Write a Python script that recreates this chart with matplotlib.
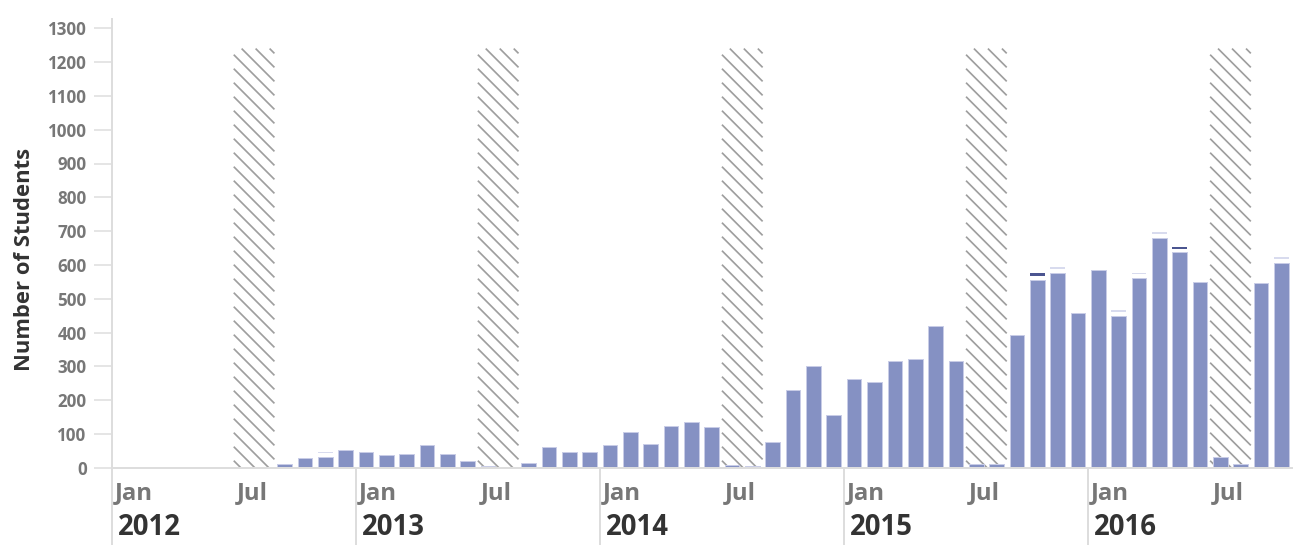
import matplotlib
matplotlib.use("Agg")
import matplotlib.pyplot as plt
import matplotlib.transforms as mtrans
from matplotlib.collections import LineCollection

# ---------------- data ----------------
years = [2012, 2013, 2014, 2015, 2016]
month_names = ["Jan", "Jul"]
# monthly enrolments, Jan 2012 .. Oct 2016
main_values = [0, 0, 0, 0, 0, 0, 0, 0, 11, 30, 33, 52,
               46, 38, 41, 68, 41, 19, 4, 1.5, 13, 62, 46, 45,
               66, 105, 71, 123, 135, 120, 8, 5, 75, 229, 302, 156,
               263, 253, 316, 321, 419, 317, 11, 10, 393, 555, 577, 457,
               585, 449, 561, 681, 637, 548, 31, 12, 547, 607]
# small stacked segments on top (light and dark)
light_extra = {10: 13, 39: 13, 46: 17, 49: 17, 50: 16, 51: 16, 57: 16}
dark_extra = {45: 21, 52: 16}
summer_months = [6, 18, 30, 42, 54]   # first month of each Jul-Aug break
summer_len = 2
summer_height = 1240
y_ticks = list(range(0, 1301, 100))

# ---------------- style ----------------
DPI = 100
W, H = 1300, 560
def pt(px):
    return px * 72.0 / DPI

BAR_C = "#8591c3"
BAR_EDGE = "#c8cce6"
LIGHT_C = "#d8dbee"
DARK_C = "#4b5590"
HATCH_C = "#9e9e9e"
AXIS_C = "#dddddd"
TICK_TXT = "#777777"
DARK_TXT = "#333333"
FONT = ["Open Sans", "DejaVu Sans"]

plt.rcParams["font.family"] = FONT

fig = plt.figure(figsize=(W / DPI, H / DPI), dpi=DPI)
ax_left_px, ax_right_px = 111.7, 1291.5
ax_top_px, ax_bot_px = 19.0, 467.7
ax = fig.add_axes([ax_left_px / W, 1 - ax_bot_px / H,
                   (ax_right_px - ax_left_px) / W, (ax_bot_px - ax_top_px) / H])
ax_h_px = ax_bot_px - ax_top_px
n_months = len(main_values)
ymax = 1300 * ax_h_px / (467.7 - 28.3)
ax.set_xlim(0, n_months)
ax.set_ylim(0, ymax)
px_per_month = (ax_right_px - ax_left_px) / n_months
px_per_unit = ax_h_px / ymax

# summer hatched blocks (diagonal lines, top-left to bottom-right)
HATCH_STEP = 14.0  # px
segs = []
for s in summer_months:
    w = summer_len * px_per_month
    h = summer_height * px_per_unit
    c = HATCH_STEP / 2
    while c < w + h:
        xa, xb = max(0.0, c - h), min(w, c)
        segs.append([(s + xa / px_per_month, (c - xa) / px_per_unit),
                     (s + xb / px_per_month, (c - xb) / px_per_unit)])
        c += HATCH_STEP
ax.add_collection(LineCollection(segs, colors=HATCH_C, linewidths=pt(1.7),
                                 zorder=1, capstyle="butt"))

xs = [m + 0.5 for m in range(n_months)]
BW = 0.72
ax.bar(xs, main_values, width=BW, color=BAR_C, edgecolor=BAR_EDGE,
       linewidth=pt(1.0), zorder=3)

GAP_U = 11  # white gap (value units) between bar and thin top segment
for extra, col in ((light_extra, LIGHT_C), (dark_extra, DARK_C)):
    mx = sorted(extra)
    ax.bar([xs[m] for m in mx], [extra[m] - GAP_U for m in mx], width=BW,
           bottom=[main_values[m] + GAP_U for m in mx], color=col,
           linewidth=0, zorder=3)

# axes styling
for side in ("top", "right"):
    ax.spines[side].set_visible(False)
ax.spines["left"].set_color(AXIS_C)
ax.spines["left"].set_linewidth(pt(2))
ax.spines["bottom"].set_color(AXIS_C)
ax.spines["bottom"].set_linewidth(pt(2))
ax.spines["left"].set_zorder(5)
ax.spines["bottom"].set_zorder(5)

ax.set_yticks(y_ticks)
ax.set_yticklabels([str(v) for v in y_ticks])
ax.tick_params(axis="y", length=pt(18), width=pt(1.5), color=AXIS_C,
               pad=pt(7), labelsize=pt(17), labelcolor=TICK_TXT)
for lab in ax.get_yticklabels():
    lab.set_fontweight("bold")
ax.set_xticks([])

# vertical lines below the axis at each January
ybottom = -(544 - ax_bot_px) / ax_h_px
trans = mtrans.blended_transform_factory(ax.transData, ax.transAxes)
for i, yr in enumerate(years):
    m = i * 12
    ax.plot([m, m], [0, ybottom], transform=trans, color=AXIS_C,
            linewidth=pt(2), clip_on=False, zorder=5)

# month labels & year labels
mon_y = -(499 - ax_bot_px) / ax_h_px
yr_y = -(535 - ax_bot_px) / ax_h_px
for i, yr in enumerate(years):
    for j, name in enumerate(month_names):
        m = i * 12 + j * 6
        if m >= n_months:
            continue
        ax.text(m + 3 / px_per_month, mon_y, name, transform=trans,
                ha="left", va="baseline", fontsize=pt(24), fontweight="bold",
                color=TICK_TXT)
    ax.text(i * 12 + 6 / px_per_month, yr_y, str(yr), transform=trans,
            ha="left", va="baseline", fontsize=pt(27.5), fontweight="bold",
            color=DARK_TXT)

fig.text(25 / W, 1 - 259 / H, "Number of Students", rotation=90,
         ha="center", va="center", fontsize=pt(22), fontweight="bold",
         color=DARK_TXT)

fig.savefig("out.png", dpi=DPI, facecolor="white")
